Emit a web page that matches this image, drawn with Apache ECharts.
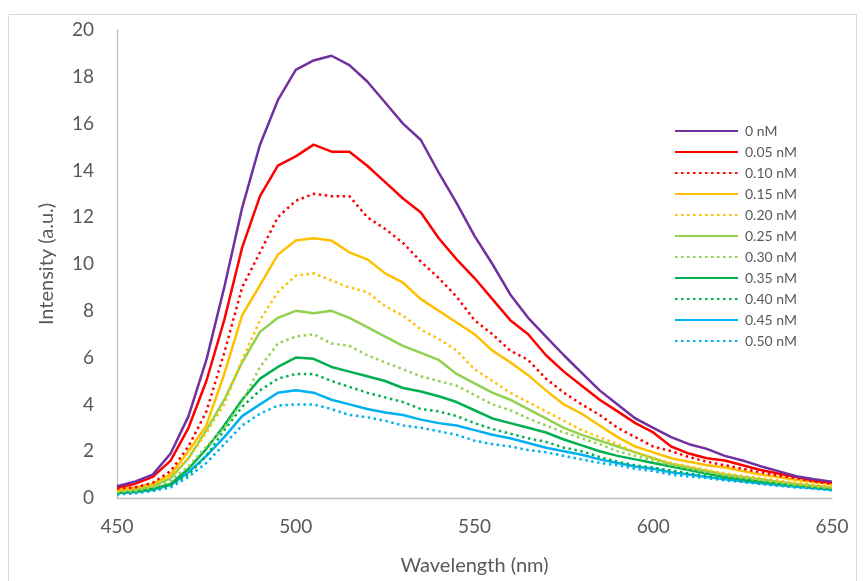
<!DOCTYPE html>
<html>
<head>
<meta charset="utf-8">
<script src="https://cdn.jsdelivr.net/npm/echarts@6/dist/echarts.min.js"></script>
<style>
  html, body { margin: 0; padding: 0; background: #fff; }
  #main { width: 863px; height: 581px; }
</style>
</head>
<body>
<div id="main"></div>
<script>
// wavelength (nm), every 5 nm
var wavelength = [450, 455, 460, 465, 470, 475, 480, 485, 490, 495, 500, 505, 510, 515, 520, 525, 530, 535, 540, 545,
  550, 555, 560, 565, 570, 575, 580, 585, 590, 595, 600, 605, 610, 615, 620, 625, 630, 635, 640, 645, 650];

// intensity (a.u.)
var c0 = [0.5, 0.7, 1.0, 1.9, 3.5, 5.9, 9.0, 12.4, 15.1, 17.0, 18.3, 18.7, 18.9, 18.5, 17.8, 16.9, 16.0, 15.3, 13.9, 12.6,
  11.2, 10.0, 8.7, 7.7, 6.9, 6.1, 5.35, 4.6, 4.0, 3.4, 3.0, 2.6, 2.3, 2.1, 1.8, 1.6, 1.36, 1.15, 0.93, 0.8, 0.7];
var c005 = [0.45, 0.6, 0.9, 1.6, 3.0, 5.0, 7.6, 10.7, 12.9, 14.2, 14.6, 15.1, 14.8, 14.8, 14.2, 13.5, 12.8, 12.2, 11.1, 10.2,
  9.4, 8.5, 7.6, 7.0, 6.1, 5.4, 4.8, 4.2, 3.7, 3.2, 2.8, 2.2, 1.9, 1.7, 1.6, 1.4, 1.2, 1.05, 0.9, 0.75, 0.65];
var c010 = [0.4, 0.45, 0.65, 1.15, 2.2, 3.7, 6.2, 9.0, 10.5, 12.0, 12.7, 13.0, 12.9, 12.9, 12.0, 11.5, 10.9, 10.1, 9.4, 8.6,
  7.6, 7.0, 6.3, 5.9, 5.1, 4.5, 4.0, 3.55, 3.0, 2.6, 2.2, 2.0, 1.75, 1.55, 1.4, 1.25, 1.1, 0.95, 0.85, 0.7, 0.6];
var c015 = [0.35, 0.45, 0.6, 1.0, 2.0, 3.1, 5.3, 7.8, 9.1, 10.4, 11.0, 11.1, 11.0, 10.5, 10.2, 9.6, 9.2, 8.5, 8.0, 7.5,
  7.0, 6.3, 5.8, 5.25, 4.6, 4.0, 3.6, 3.1, 2.6, 2.2, 1.95, 1.7, 1.55, 1.4, 1.3, 1.15, 1.0, 0.9, 0.77, 0.68, 0.6];
var c020 = [0.3, 0.4, 0.55, 0.95, 1.7, 2.8, 4.0, 5.9, 7.6, 8.8, 9.5, 9.6, 9.3, 9.0, 8.8, 8.2, 7.8, 7.2, 6.8, 6.3,
  5.5, 5.0, 4.5, 4.1, 3.7, 3.3, 2.9, 2.6, 2.3, 1.95, 1.7, 1.5, 1.35, 1.2, 1.05, 0.95, 0.85, 0.75, 0.65, 0.55, 0.5];
var c025 = [0.3, 0.35, 0.5, 0.85, 1.7, 2.9, 4.2, 5.8, 7.1, 7.7, 8.0, 7.9, 8.0, 7.7, 7.3, 6.9, 6.5, 6.2, 5.9, 5.3,
  4.9, 4.5, 4.2, 3.8, 3.4, 3.0, 2.7, 2.45, 2.2, 1.95, 1.7, 1.45, 1.3, 1.15, 1.0, 0.9, 0.8, 0.7, 0.6, 0.52, 0.45];
var c030 = [0.25, 0.3, 0.45, 0.75, 1.35, 2.2, 3.0, 4.1, 5.6, 6.6, 6.9, 7.0, 6.6, 6.5, 6.1, 5.8, 5.5, 5.2, 5.0, 4.8,
  4.4, 4.0, 3.75, 3.4, 3.1, 2.8, 2.55, 2.3, 2.0, 1.8, 1.6, 1.4, 1.25, 1.1, 0.95, 0.85, 0.75, 0.65, 0.55, 0.48, 0.42];
var c035 = [0.25, 0.3, 0.4, 0.6, 1.25, 2.1, 3.1, 4.2, 5.1, 5.6, 6.0, 5.95, 5.6, 5.4, 5.2, 5.0, 4.7, 4.55, 4.35, 4.1,
  3.75, 3.4, 3.2, 3.0, 2.8, 2.5, 2.25, 2.0, 1.8, 1.65, 1.5, 1.35, 1.2, 1.05, 0.9, 0.8, 0.7, 0.62, 0.55, 0.48, 0.4];
var c040 = [0.2, 0.25, 0.35, 0.55, 1.0, 1.8, 2.9, 3.9, 4.6, 5.1, 5.3, 5.3, 5.0, 4.75, 4.5, 4.3, 4.1, 3.8, 3.7, 3.5,
  3.2, 2.95, 2.75, 2.55, 2.4, 2.15, 2.0, 1.75, 1.55, 1.4, 1.3, 1.18, 1.05, 0.95, 0.85, 0.75, 0.67, 0.6, 0.52, 0.45, 0.38];
var c045 = [0.2, 0.25, 0.35, 0.55, 1.1, 1.8, 2.6, 3.5, 4.0, 4.5, 4.6, 4.5, 4.2, 4.0, 3.8, 3.65, 3.55, 3.35, 3.2, 3.1,
  2.9, 2.7, 2.55, 2.35, 2.15, 2.0, 1.85, 1.65, 1.5, 1.35, 1.25, 1.1, 1.0, 0.9, 0.8, 0.72, 0.63, 0.55, 0.48, 0.42, 0.35];
var c050 = [0.15, 0.2, 0.3, 0.45, 0.9, 1.5, 2.3, 3.1, 3.6, 3.95, 4.0, 4.0, 3.8, 3.55, 3.45, 3.3, 3.1, 3.0, 2.85, 2.7,
  2.45, 2.3, 2.2, 2.05, 1.95, 1.8, 1.65, 1.5, 1.4, 1.25, 1.15, 1.0, 0.92, 0.85, 0.75, 0.68, 0.6, 0.52, 0.45, 0.4, 0.32];

var names = ['0 nM', '0.05 nM', '0.10 nM', '0.15 nM', '0.20 nM', '0.25 nM', '0.30 nM', '0.35 nM', '0.40 nM', '0.45 nM', '0.50 nM'];
var values = [c0, c005, c010, c015, c020, c025, c030, c035, c040, c045, c050];
var colors = ['#7030a0', '#ff0000', '#ff0000', '#ffc000', '#ffc000', '#92d050', '#92d050', '#00b050', '#00b050', '#00b0f0', '#00b0f0'];
var dotted = [false, false, true, false, true, false, true, false, true, false, true];

var font = 'Lato, "Liberation Sans", sans-serif';

var series = names.map(function (n, i) {
  return {
    name: n,
    type: 'line',
    symbol: 'none',
    showSymbol: false,
    data: wavelength.map(function (w, k) { return [w, values[i][k]]; }),
    lineStyle: {
      color: colors[i],
      width: 2.5,
      type: dotted[i] ? [2.5, 3.5] : 'solid'
    },
    itemStyle: { color: colors[i] },
    z: 10 - i
  };
});

var mychart = echarts.init(document.getElementById('main'));
mychart.setOption({
  animation: false,
  backgroundColor: '#fff',
  graphic: [{
    type: 'rect',
    shape: { x: 8.5, y: 14.5, width: 848, height: 600 },
    style: { fill: 'none', stroke: '#d9d9d9', lineWidth: 1 },
    silent: true
  }],
  grid: { left: 117, right: 31, top: 30, bottom: 81 },
  legend: {
    data: names,
    orient: 'vertical',
    left: 669,
    top: 119,
    itemWidth: 63,
    itemHeight: 14,
    itemGap: 7,
    itemStyle: { opacity: 0 },
    textStyle: { fontFamily: font, fontSize: 14, color: '#595959', padding: [0, 0, 0, 2] }
  },
  xAxis: {
    type: 'value',
    min: 450,
    max: 650,
    interval: 50,
    name: 'Wavelength (nm)',
    nameLocation: 'middle',
    nameGap: 58,
    nameTextStyle: { fontFamily: font, fontSize: 20, color: '#595959' },
    axisLine: { lineStyle: { color: '#bfbfbf', width: 1.3 } },
    axisTick: { show: false },
    splitLine: { show: false },
    axisLabel: { fontFamily: font, fontSize: 19, color: '#595959', margin: 19 }
  },
  yAxis: {
    type: 'value',
    min: 0,
    max: 20,
    interval: 2,
    name: 'Intensity (a.u.)',
    nameLocation: 'middle',
    nameGap: 60,
    nameTextStyle: { fontFamily: font, fontSize: 20, color: '#595959' },
    axisLine: { show: true, lineStyle: { color: '#bfbfbf', width: 1.3 } },
    axisTick: { show: false },
    splitLine: { show: false },
    axisLabel: { fontFamily: font, fontSize: 19, color: '#595959', margin: 23 }
  },
  series: series
});
</script>
</body>
</html>
